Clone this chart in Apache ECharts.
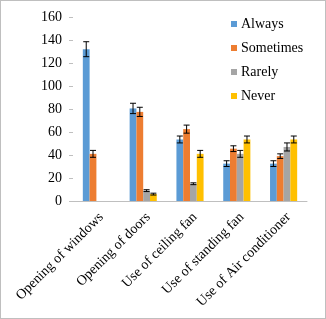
<!DOCTYPE html>
<html>
<head>
<meta charset="utf-8">
<script src="https://cdn.jsdelivr.net/npm/echarts@6/dist/echarts.min.js"></script>
<style>
  html, body { margin: 0; padding: 0; background: #fff; }
  #chart { width: 324px; height: 317px; border: 1px solid #bfbfbf; }
</style>
</head>
<body>
<div id="chart"></div>
<script>
const categories = ['Opening of windows', 'Opening of doors', 'Use of ceiling fan', 'Use of standing fan', 'Use of Air conditioner']
const seriesNames = ['Always', 'Sometimes', 'Rarely', 'Never']
const always = [132, 80.5, 53.5, 32.5, 32.5]
const sometimes = [41, 77.5, 62.5, 45.5, 39]
const rarely = [0, 9, 15, 41, 47]
const never = [0, 6, 41, 53.5, 53.5]
const alwaysErr = [6.5, 4.5, 3, 2.5, 2.5]
const sometimesErr = [3, 4, 3.5, 2.5, 2]
const rarelyErr = [0, 0.8, 0.8, 3, 3.5]
const never_err = [0, 0.8, 3, 3, 3]
const colors = ['#5B9BD5', '#ED7D31', '#A5A5A5', '#FFC000']

const values = [always, sometimes, rarely, never]
const errors = [alwaysErr, sometimesErr, rarelyErr, never_err]
const gap = 0.42

const chart = echarts.init(document.getElementById('chart'))

const barSeries = seriesNames.map((name, i) => ({
  name,
  type: 'bar',
  data: values[i],
  barGap: 0,
  barCategoryGap: gap * 100 + '%',
  itemStyle: {color: colors[i]},
  z: 2
}))

const errSeries = seriesNames.map((name, i) => ({
  type: 'custom',
  name: name + ' err',
  silent: true,
  z: 5,
  data: values[i].map((v, j) => [j, v, errors[i][j]]),
  renderItem: (params, api) => {
    const idx = api.value(0)
    const v = api.value(1)
    const e = api.value(2)
    if (!e) return null
    const catW = api.size([1, 0])[0]
    const bw = catW * (1 - gap) / 4
    const c = api.coord([idx, v])
    const x = c[0] + (i - 1.5) * bw
    const top = api.coord([idx, v + e])[1]
    const bot = api.coord([idx, v - e])[1]
    const style = {stroke: '#000', lineWidth: 1}
    return {
      type: 'group',
      children: [
        {type: 'line', shape: {x1: x, y1: top, x2: x, y2: bot}, style},
        {type: 'line', shape: {x1: x - 3, y1: top, x2: x + 3, y2: top}, style},
        {type: 'line', shape: {x1: x - 3, y1: bot, x2: x + 3, y2: bot}, style}
      ]
    }
  }
}))

chart.setOption({
  animation: false,
  textStyle: {fontFamily: 'Liberation Serif'},
  grid: {left: 72, right: 18, top: 16, bottom: 117},
  legend: {
    data: seriesNames,
    orient: 'vertical',
    left: 225,
    top: 11,
    itemWidth: 6,
    itemHeight: 6,
    itemGap: 10,
    icon: 'rect',
    textStyle: {fontFamily: 'Liberation Serif', fontSize: 14, color: '#000', padding: [0, 0, 0, -1]}
  },
  xAxis: {
    type: 'category',
    data: categories,
    axisLine: {lineStyle: {color: '#bfbfbf'}},
    axisTick: {show: false},
    axisLabel: {
      interval: 0,
      rotate: 45,
      margin: 9,
      verticalAlign: 'top',
      color: '#000',
      fontSize: 14,
      fontFamily: 'Liberation Serif'
    }
  },
  yAxis: {
    type: 'value',
    min: 0,
    max: 160,
    interval: 20,
    splitLine: {show: false},
    axisLine: {show: false},
    axisTick: {show: true, length: 4, lineStyle: {color: '#bfbfbf'}},
    axisLabel: {color: '#000', fontSize: 14, fontFamily: 'Liberation Serif', margin: 11}
  },
  series: [...barSeries, ...errSeries]
})
</script>
</body>
</html>
